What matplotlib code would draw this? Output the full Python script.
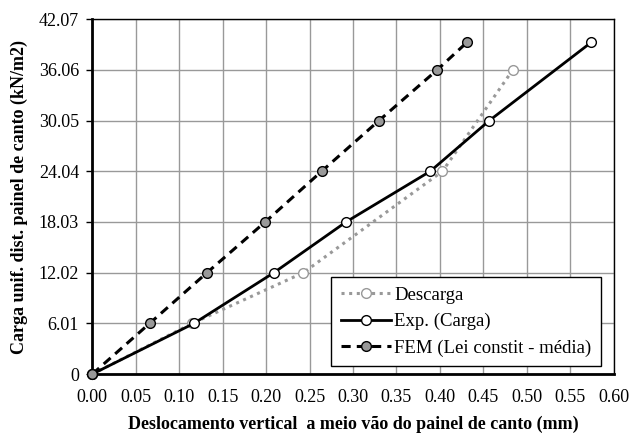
import matplotlib.pyplot as plt
import numpy as np

# Data
y_ticks = [0, 6.01, 12.02, 18.03, 24.04, 30.05, 36.06, 42.07]
x_ticks = [0.00, 0.05, 0.10, 0.15, 0.20, 0.25, 0.30, 0.35, 0.40, 0.45, 0.50, 0.55, 0.60]

descarga_x = [0.0, 0.115, 0.243, 0.403, 0.484]
descarga_y = [0.0, 6.01, 12.02, 24.04, 36.06]

carga_x = [0.0, 0.117, 0.209, 0.292, 0.389, 0.457, 0.574]
carga_y = [0.0, 6.01, 12.02, 18.03, 24.04, 30.05, 39.3]

fem_x = [0.0, 0.066, 0.132, 0.199, 0.264, 0.330, 0.397, 0.431]
fem_y = [0.0, 6.01, 12.02, 18.03, 24.04, 30.05, 36.06, 39.3]

plt.rcParams['font.family'] = ['Liberation Serif', 'DejaVu Serif']

fig, ax = plt.subplots(figsize=(6.32, 4.34), dpi=100)
fig.subplots_adjust(left=0.146, right=0.971, top=0.956, bottom=0.138)

ax.plot(descarga_x, descarga_y, color='#999999', linestyle=(0, (1, 1.5)), linewidth=2.2,
        marker='o', markersize=7, markerfacecolor='white', markeredgecolor='#999999',
        label='Descarga', zorder=3, clip_on=False)
ax.plot(carga_x, carga_y, color='black', linestyle='-', linewidth=2.0,
        marker='o', markersize=7, markerfacecolor='white', markeredgecolor='black',
        label='Exp. (Carga)', zorder=4, clip_on=False)
ax.plot(fem_x, fem_y, color='black', linestyle=(0, (3, 2)), linewidth=2.2,
        marker='o', markersize=7, markerfacecolor='#999999', markeredgecolor='black',
        label='FEM (Lei constit - média)', zorder=5, clip_on=False)

ax.set_xlim(0, 0.6)
ax.set_ylim(0, 42.07)
ax.set_xticks(x_ticks)
ax.set_xticklabels(['%.2f' % v for v in x_ticks])
ax.set_yticks(y_ticks)
ax.set_yticklabels(['0' if v == 0 else '%.2f' % v for v in y_ticks])
ax.tick_params(axis='x', labelsize=13, length=0, pad=11)
ax.tick_params(axis='y', labelsize=13, length=4.5, width=1.0, pad=5)

ax.grid(True, color='#999999', linewidth=1.0)
ax.set_axisbelow(True)

for side in ['left', 'bottom']:
    ax.spines[side].set_linewidth(2.0)
for side in ['top', 'right']:
    ax.spines[side].set_linewidth(1.0)

ax.set_xlabel('Deslocamento vertical  a meio vão do painel de canto (mm)',
              fontsize=13, fontweight='bold', labelpad=7)
ax.set_ylabel('Carga unif. dist. painel de canto (kN/m2)',
              fontsize=13, fontweight='bold', labelpad=8)

leg = ax.legend(loc='lower right', bbox_to_anchor=(0.975, 0.022), fontsize=13.5,
                frameon=True, fancybox=False, edgecolor='black', framealpha=1,
                handlelength=2.7, handletextpad=0.15, borderaxespad=0,
                labelspacing=0.5, borderpad=0.5)
leg.get_frame().set_linewidth(1.0)

plt.savefig('out.png', dpi=100)
